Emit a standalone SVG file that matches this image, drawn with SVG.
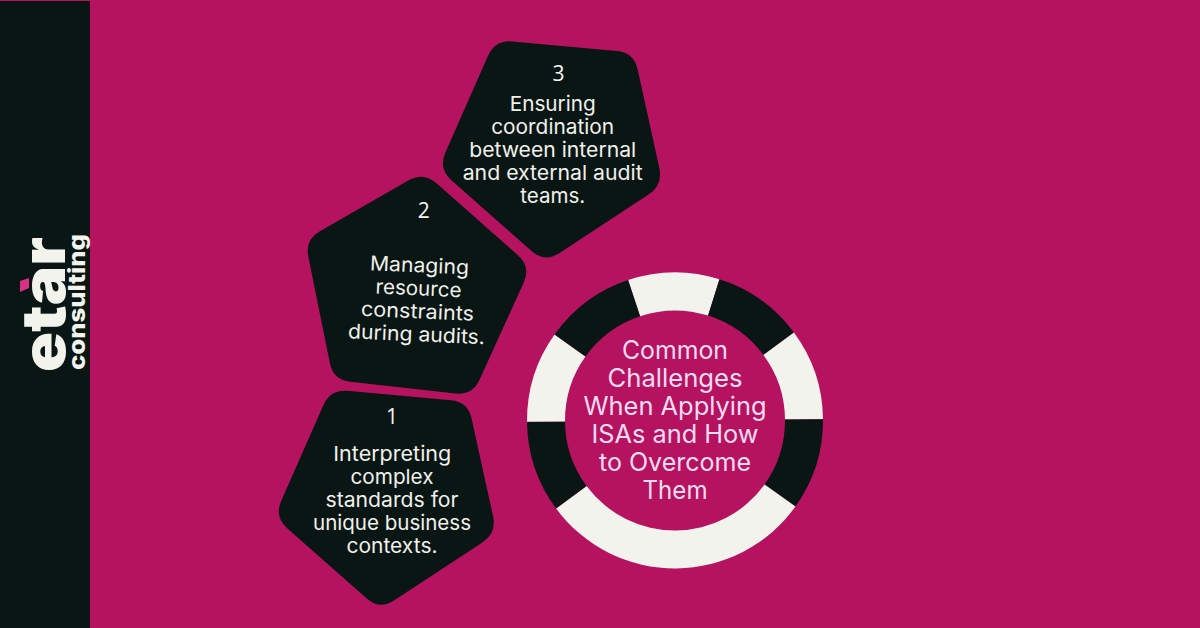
<svg xmlns="http://www.w3.org/2000/svg" width="1200" height="628" viewBox="0 0 1200 628">
<style>
.dk{fill:#0a1614}.lt{fill:#f3f3ee}
.t{font-family:"Inter","Liberation Sans",sans-serif;font-size:20.4px;fill:#f1f1ec;text-anchor:middle}
.n{font-family:"Open Sans","Liberation Sans",sans-serif;font-size:21px;font-weight:500;fill:#f5f5f0;text-anchor:middle}
.c{font-family:"Inter","Liberation Sans",sans-serif;font-size:25.4px;fill:#fbdcf3;text-anchor:middle}
</style>
<defs>
<path id="pent" d="M347.9 392.1L450.1 401.5Q467 403 470.6 419.6L491.8 516Q495.4 532.6 481.2 541.9L393.9 599.3Q379.7 608.6 367 597.3L288.3 527.8Q275.6 516.5 282.4 501L324.2 406.2Q331 390.6 347.9 392.1Z"/>
</defs>
<rect width="1200" height="628" fill="#b5135f"/>
<g id="sidebar">
<rect y="1" width="90" height="627" class="dk"/>
<text transform="translate(65 372) rotate(-90)" font-family="Inter,'Liberation Sans',sans-serif" font-weight="900" font-size="60" fill="#f3f3ee" textLength="135" lengthAdjust="spacingAndGlyphs">etar</text>
<polygon points="20,281 29,278 29,288 20,292" fill="#d92f86"/>
<text transform="translate(85 370) rotate(-90)" font-family="Inter,'Liberation Sans',sans-serif" font-weight="800" font-size="23" fill="#f3f3ee" textLength="136" lengthAdjust="spacingAndGlyphs">consulting</text>
</g>
<g id="node-1">
<use href="#pent" class="dk" transform="translate(385.5 499) scale(1.012) translate(-385.5 -499)"/>
<text class="n" x="392" y="424">1</text>
<text class="t" x="392.3" y="460.7" textLength="118" lengthAdjust="spacingAndGlyphs">Interpreting</text>
<text class="t" x="392" y="483.7" textLength="83" lengthAdjust="spacingAndGlyphs">complex</text>
<text class="t" x="392" y="506.7" textLength="133" lengthAdjust="spacingAndGlyphs">standards for</text>
<text class="t" x="392" y="529.7" textLength="158" lengthAdjust="spacingAndGlyphs">unique business</text>
<text class="t" x="392" y="552.7" textLength="91" lengthAdjust="spacingAndGlyphs">contexts.</text>
</g>
<g id="node-2">
<path class="dk" transform="translate(418 284) scale(1.012) translate(-418 -284)" d="M436.3 184.5L516.8 255.7Q529.5 267 522.5 282.5L478.8 378.7Q471.8 394.2 454.9 392.3L351.1 380.7Q334.2 378.8 330.9 362.1L309.6 256.9Q306.3 240.2 321.1 231.8L408.8 181.6Q423.6 173.2 436.3 184.5Z"/>
<text class="n" x="423.7" y="218">2</text>
<g transform="rotate(2.5 418 300)">
<text class="t" x="418" y="272.3" textLength="99" lengthAdjust="spacingAndGlyphs">Managing</text>
<text class="t" x="418" y="295.3" textLength="86" lengthAdjust="spacingAndGlyphs">resource</text>
<text class="t" x="418" y="318.3" textLength="113" lengthAdjust="spacingAndGlyphs">constraints</text>
<text class="t" x="418" y="341.3" textLength="137" lengthAdjust="spacingAndGlyphs">during audits.</text>
</g>
</g>
<g id="node-3">
<use href="#pent" class="dk" transform="translate(550.7 150.7) scale(1.022) translate(-385.5 -499)"/>
<text class="n" x="558.5" y="81">3</text>
<text class="t" x="552.7" y="111.3" textLength="86" lengthAdjust="spacingAndGlyphs">Ensuring</text>
<text class="t" x="552.7" y="134.3" textLength="123" lengthAdjust="spacingAndGlyphs">coordination</text>
<text class="t" x="552.7" y="157.3" textLength="167" lengthAdjust="spacingAndGlyphs">between internal</text>
<text class="t" x="552.7" y="180.3" textLength="180" lengthAdjust="spacingAndGlyphs">and external audit</text>
<text class="t" x="552.7" y="203.3" textLength="65" lengthAdjust="spacingAndGlyphs">teams.</text>
</g>
<g id="hub">
<g transform="rotate(-0.5 675 420.5)">
<path class="lt" d="M629.3 279.7A148 148 0 0 1 720.7 279.7L709 315.9A110 110 0 0 0 641 315.9Z"/>
<path class="dk" d="M720.7 279.7A148 148 0 0 1 794.7 333.5L764 355.8A110 110 0 0 0 709 315.9Z"/>
<path class="lt" d="M794.7 333.5A148 148 0 0 1 823 420.5L785 420.5A110 110 0 0 0 764 355.8Z"/>
<path class="dk" d="M823 420.5A148 148 0 0 1 794.7 507.5L764 485.2A110 110 0 0 0 785 420.5Z"/>
<path class="lt" d="M794.7 507.5A148 148 0 0 1 555.3 507.5L586 485.2A110 110 0 0 0 764 485.2Z"/>
<path class="dk" d="M555.3 507.5A148 148 0 0 1 527 420.5L565 420.5A110 110 0 0 0 586 485.2Z"/>
<path class="lt" d="M527 420.5A148 148 0 0 1 555.3 333.5L586 355.8A110 110 0 0 0 565 420.5Z"/>
<path class="dk" d="M555.3 333.5A148 148 0 0 1 629.3 279.7L641 315.9A110 110 0 0 0 586 355.8Z"/>
</g>
<text class="c" x="675" y="358.8" textLength="106" lengthAdjust="spacingAndGlyphs">Common</text>
<text class="c" x="675" y="386.8" textLength="135" lengthAdjust="spacingAndGlyphs">Challenges</text>
<text class="c" x="675" y="414.8" textLength="183" lengthAdjust="spacingAndGlyphs">When Applying</text>
<text class="c" x="675" y="442.8" textLength="167" lengthAdjust="spacingAndGlyphs">ISAs and How</text>
<text class="c" x="675" y="470.8" textLength="152" lengthAdjust="spacingAndGlyphs">to Overcome</text>
<text class="c" x="675" y="498.8" textLength="65" lengthAdjust="spacingAndGlyphs">Them</text>
</g>
<g id="connectors"/>
</svg>
